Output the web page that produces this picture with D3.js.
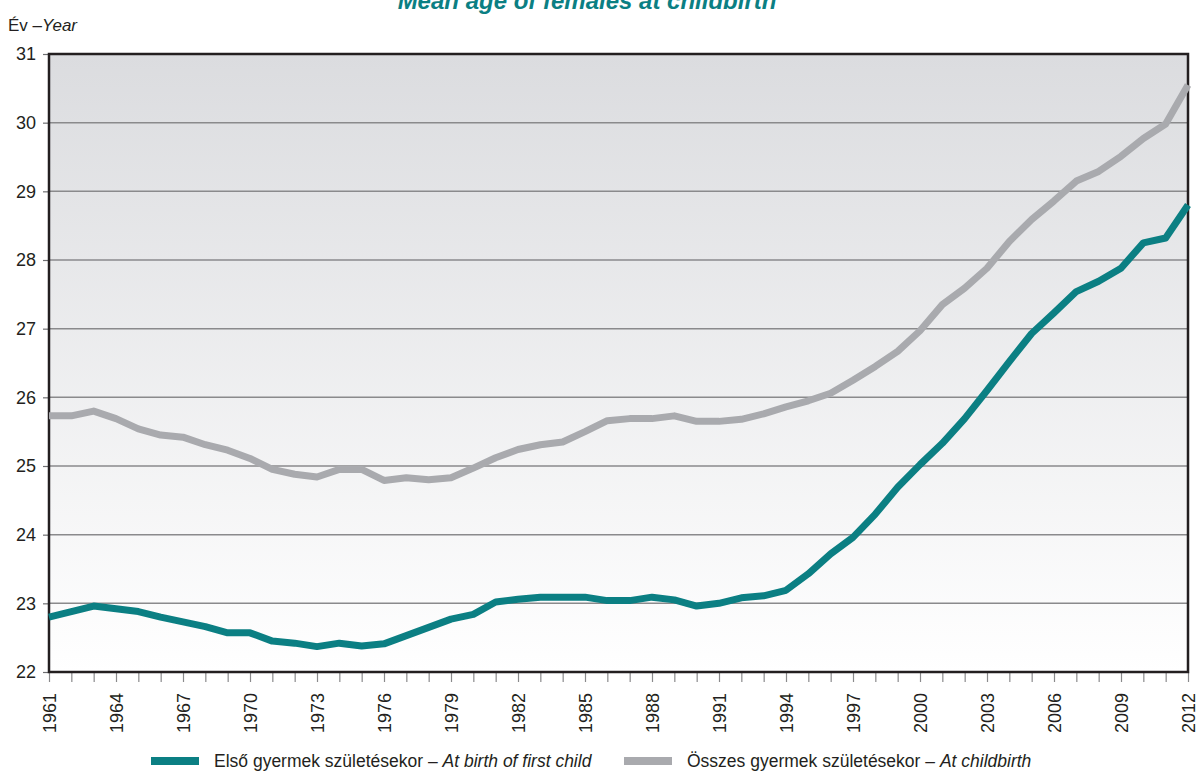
<!DOCTYPE html>
<html>
<head>
<meta charset="utf-8">
<script src="https://cdn.jsdelivr.net/npm/d3@7"></script>
<style>
body { margin: 0; background: #fff; }
svg text { font-family: "Liberation Sans Narrow", "Arial Narrow", "Liberation Sans", sans-serif; fill: #231f20; }
</style>
</head>
<body>
<svg id="chart" width="1198" height="772"></svg>
<script>
'use strict';

var years = d3.range(1961, 2013);

// Első gyermek születésekor – At birth of first child
var firstChild = [
	22.80, 22.88, 22.96, 22.92, 22.88, 22.80, 22.73, 22.66, 22.57, 22.57,
	22.45, 22.42, 22.37, 22.42, 22.38, 22.41, 22.53, 22.65, 22.77, 22.84,
	23.02, 23.06, 23.09, 23.09, 23.09, 23.04, 23.04, 23.09, 23.05, 22.96,
	23.00, 23.08, 23.11, 23.19, 23.43, 23.72, 23.96, 24.30, 24.69, 25.02,
	25.33, 25.69, 26.10, 26.52, 26.93, 27.23, 27.54, 27.69, 27.88, 28.25,
	28.32, 28.80
];

// Összes gyermek születésekor – At childbirth
var allChildren = [
	25.73, 25.73, 25.80, 25.69, 25.54, 25.45, 25.42, 25.31, 25.23, 25.11,
	24.95, 24.88, 24.84, 24.95, 24.95, 24.79, 24.83, 24.80, 24.83, 24.97,
	25.12, 25.24, 25.31, 25.35, 25.50, 25.66, 25.69, 25.69, 25.73, 25.65,
	25.65, 25.68, 25.76, 25.86, 25.95, 26.06, 26.25, 26.45, 26.67, 26.97,
	27.35, 27.59, 27.88, 28.27, 28.59, 28.86, 29.15, 29.29, 29.51, 29.77,
	29.98, 30.55
];

var yTicks = [22, 23, 24, 25, 26, 27, 28, 29, 30, 31];
var xLabelYears = d3.range(1961, 2013, 3);

var seriesNames = [
	{ hu: 'Első gyermek születésekor – ', en: 'At birth of first child' },
	{ hu: 'Összes gyermek születésekor – ', en: 'At childbirth' }
];

var teal = '#0b7f83';
var grey = '#a9aaae';

var svg = d3.select('#chart');

var margins = { left: 49, right: 10, top: 54, bottom: 100 };
var width = 1198 - margins.left - margins.right;
var height = 772 - margins.top - margins.bottom;

var x = d3.scaleLinear().domain([1961, 2012]).range([0, width]);
var y = d3.scaleLinear().domain([22, 31]).range([height, 0]);

// background gradient
var defs = svg.append('defs');
var grad = defs.append('linearGradient').attr('id', 'bg').attr('x1', 0).attr('y1', 0).attr('x2', 0).attr('y2', 1);
grad.append('stop').attr('offset', '0%').attr('stop-color', '#dbdcdf');
grad.append('stop').attr('offset', '100%').attr('stop-color', '#ffffff');

// title (cut at top edge, as in the source)
svg.append('text')
	.attr('x', 587).attr('y', 9)
	.attr('text-anchor', 'middle')
	.style('font-size', '24px').style('font-weight', 'bold').style('font-style', 'italic')
	.style('fill', teal)
	.text('Mean age of females at childbirth');

// y axis label
var yl = svg.append('text').attr('x', 8).attr('y', 31).style('font-size', '17px');
yl.append('tspan').text('Év –');
yl.append('tspan').style('font-style', 'italic').text('Year');

var g = svg.append('g').attr('transform', 'translate(' + margins.left + ',' + margins.top + ')');

g.append('rect').attr('width', width).attr('height', height).attr('fill', 'url(#bg)');

// gridlines
g.selectAll('line.grid').data(yTicks.slice(1, -1)).enter().append('line')
	.attr('class', 'grid')
	.attr('x1', 0).attr('x2', width)
	.attr('y1', function (d) { return y(d); })
	.attr('y2', function (d) { return y(d); })
	.attr('stroke', '#8a8a8c').attr('stroke-width', 1.5);

// y axis
var yAxis = d3.axisLeft(y).tickValues(yTicks).tickSize(6).tickPadding(7).tickFormat(d3.format('d'));
var yG = g.append('g').call(yAxis);
yG.select('.domain').remove();
yG.selectAll('line').attr('stroke', '#6d6e71').attr('stroke-width', 1.2);
yG.selectAll('text').style('font-size', '18px').style('font-family', null).attr('fill', '#231f20');

// x axis
var xAxis = d3.axisBottom(x).tickValues(years).tickSize(10).tickFormat(function (d) {
	return xLabelYears.indexOf(d) >= 0 ? d : '';
});
var xG = g.append('g').attr('transform', 'translate(0,' + height + ')').call(xAxis);
xG.select('.domain').remove();
xG.selectAll('line').attr('stroke', '#8a8a8c').attr('stroke-width', 1.2);
xG.selectAll('text')
	.style('font-size', '18px').style('font-family', null).attr('fill', '#231f20')
	.attr('text-anchor', 'end')
	.attr('transform', 'rotate(-90)')
	.attr('x', -21).attr('y', 0).attr('dy', '0.35em');

// frame
g.append('rect').attr('width', width).attr('height', height)
	.attr('fill', 'none').attr('stroke', '#231f20').attr('stroke-width', 2.5);

var line = d3.line()
	.x(function (d, i) { return x(years[i]); })
	.y(function (d) { return y(d); });

g.append('path').datum(allChildren).attr('d', line)
	.attr('fill', 'none').attr('stroke', grey).attr('stroke-width', 7).attr('stroke-linejoin', 'round');

g.append('path').datum(firstChild).attr('d', line)
	.attr('fill', 'none').attr('stroke', teal).attr('stroke-width', 7).attr('stroke-linejoin', 'round');

// legend
var legendX = [151, 624];
var legendColors = [teal, grey];
var legend = svg.selectAll('g.legend').data(seriesNames).enter().append('g')
	.attr('class', 'legend')
	.attr('transform', function (d, i) { return 'translate(' + legendX[i] + ',761)'; });

legend.append('rect').attr('x', 0).attr('y', -4).attr('width', 48).attr('height', 8)
	.attr('fill', function (d, i) { return legendColors[i]; });

var lt = legend.append('text').attr('x', 63).attr('y', 6).style('font-size', '17.5px');
lt.append('tspan').text(function (d) { return d.hu; });
lt.append('tspan').style('font-style', 'italic').text(function (d) { return d.en; });
</script>
</body>
</html>
